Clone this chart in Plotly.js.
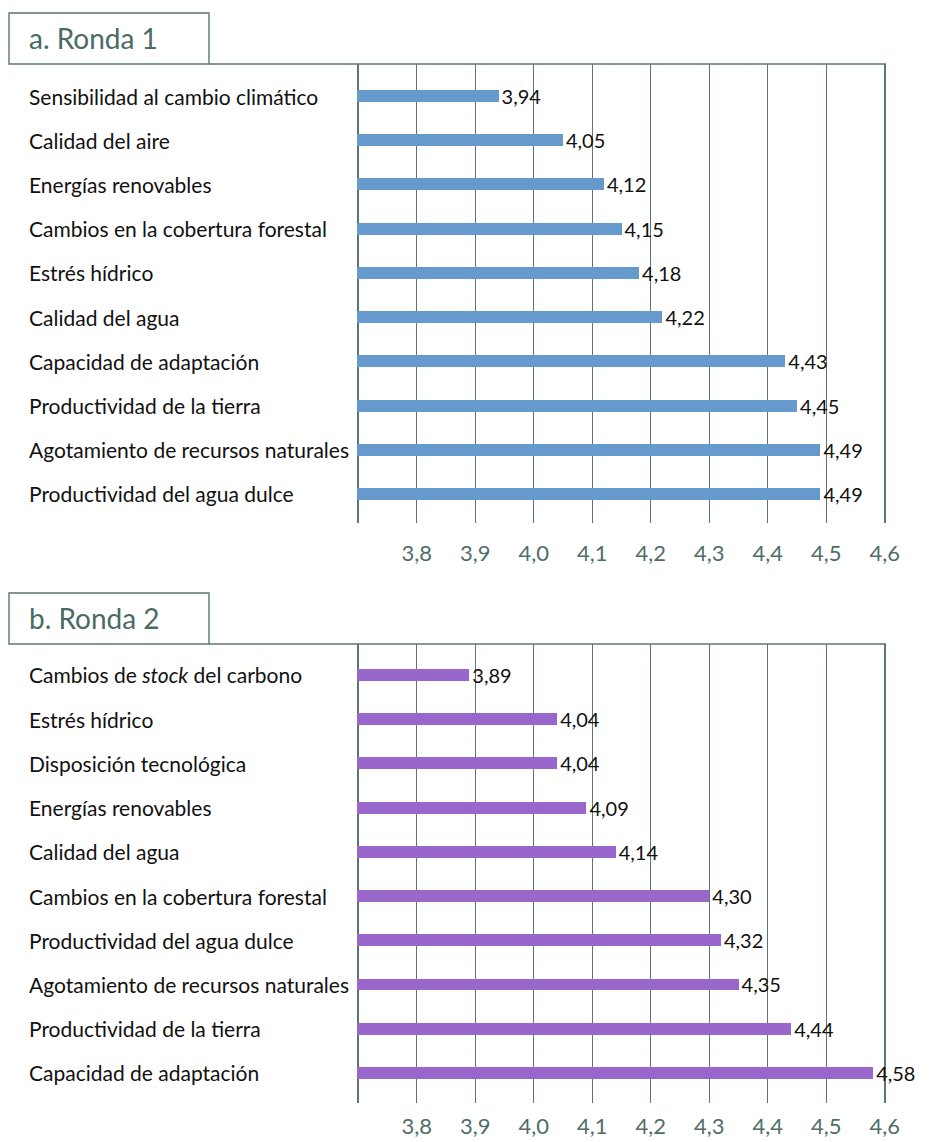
<!DOCTYPE html>
<html>
<head>
<meta charset="utf-8">
<script src="https://cdn.plot.ly/plotly-3.0.1.min.js"></script>
<style>html,body{margin:0;padding:0;background:#fff;}#chart{width:931px;height:1142px;}</style>
</head>
<body>
<div id="chart"></div>
<script>
// ---- Data ----
const titleA = "a. Ronda 1";
const titleB = "b. Ronda 2";
const categoriesA = [
  "Sensibilidad al cambio climático",
  "Calidad del aire",
  "Energías renovables",
  "Cambios en la cobertura forestal",
  "Estrés hídrico",
  "Calidad del agua",
  "Capacidad de adaptación",
  "Productividad de la tierra",
  "Agotamiento de recursos naturales",
  "Productividad del agua dulce"
];
const valuesA = [3.94, 4.05, 4.12, 4.15, 4.18, 4.22, 4.43, 4.45, 4.49, 4.49];
const categoriesB = [
  "Cambios de <i>stock</i> del carbono",
  "Estrés hídrico",
  "Disposición tecnológica",
  "Energías renovables",
  "Calidad del agua",
  "Cambios en la cobertura forestal",
  "Productividad del agua dulce",
  "Agotamiento de recursos naturales",
  "Productividad de la tierra",
  "Capacidad de adaptación"
];
const valuesB = [3.89, 4.04, 4.04, 4.09, 4.14, 4.30, 4.32, 4.35, 4.44, 4.58];
const tickVals = [3.7, 3.8, 3.9, 4.0, 4.1, 4.2, 4.3, 4.4, 4.5, 4.6];
const tickText = ["", "3,8", "3,9", "4,0", "4,1", "4,2", "4,3", "4,4", "4,5", "4,6"];

// ---- Styles ----
const FONT = "Lato, 'Noto Sans', sans-serif";
const GRID = "#5b7774";
const TICKCOL = "#4f6d69";
const fmt = v => v.toFixed(2).replace(".", ",");
const W = 931, H = 1142;
const px = x => x / W;
const py = y => 1 - y / H;

function barTrace(cats, vals, color, xa, ya) {
  return {
    type: "bar", orientation: "h",
    y: cats, x: vals, xaxis: xa, yaxis: ya,
    width: 0.27,
    marker: {color: color, line: {width: 0}},
    text: vals.map(fmt), textposition: "outside", cliponaxis: false,
    constraintext: "none",
    textfont: {family: FONT, size: 20, color: "#111"},
    hoverinfo: "x+y", showlegend: false
  };
}

const data = [
  barTrace(categoriesA, valuesA, "#6699cc", "x", "y"),
  barTrace(categoriesB, valuesB, "#9966cc", "x2", "y2")
];

function xAxis(anchor, standoff) {
  return {
    domain: [px(357), px(886)], anchor: anchor,
    range: [3.698, 4.602], tickvals: tickVals, ticktext: tickText,
    showgrid: true, gridcolor: GRID, gridwidth: 1.4, zeroline: false, showline: false,
    ticks: "", ticklabelstandoff: standoff,
    tickfont: {family: FONT, size: 22, color: TICKCOL}, fixedrange: true
  };
}
function yAxis(domain, range, cats) {
  return {
    domain: domain, type: "category", categoryarray: cats, categoryorder: "array",
    range: range, showticklabels: false, showgrid: false, zeroline: false, showline: false,
    ticks: "", fixedrange: true
  };
}

const annotations = [];
categoriesA.forEach(c => annotations.push({
  xref: "paper", yref: "y", x: px(27), y: c, xanchor: "left", yanchor: "middle",
  text: c, showarrow: false, font: {family: FONT, size: 21, color: "#111"}
}));
categoriesB.forEach(c => annotations.push({
  xref: "paper", yref: "y2", x: px(27), y: c, xanchor: "left", yanchor: "middle",
  text: c, showarrow: false, font: {family: FONT, size: 21, color: "#111"}
}));
[[titleA, 38], [titleB, 618]].forEach(([t, y]) => annotations.push({
  xref: "paper", yref: "paper", x: px(27), y: py(y), xanchor: "left", yanchor: "middle",
  text: t, showarrow: false, font: {family: FONT, size: 28, color: "#4a6a66"}
}));

const shapes = [];
[[13, 64], [593, 644]].forEach(([t, b]) => {
  shapes.push({type: "rect", xref: "paper", yref: "paper", x0: px(9), x1: px(209), y0: py(b), y1: py(t),
    line: {color: GRID, width: 1.4}, fillcolor: "rgba(0,0,0,0)"});
  shapes.push({type: "line", xref: "paper", yref: "paper", x0: px(209), x1: px(886), y0: py(b), y1: py(b),
    line: {color: GRID, width: 1.4}});
});

const layout = {
  width: W, height: H,
  margin: {l: 0, r: 0, t: 0, b: 0},
  paper_bgcolor: "#fff", plot_bgcolor: "#fff",
  font: {family: FONT},
  bargap: 0,
  xaxis: xAxis("y", 15),
  yaxis: yAxis([py(523), py(64)], [9.656, -0.724], categoriesA),
  xaxis2: xAxis("y2", 8),
  yaxis2: yAxis([py(1103), py(644)], [9.68, -0.70], categoriesB),
  annotations: annotations,
  shapes: shapes
};

Plotly.newPlot("chart", data, layout, {displayModeBar: false, staticPlot: true});
</script>
</body>
</html>
